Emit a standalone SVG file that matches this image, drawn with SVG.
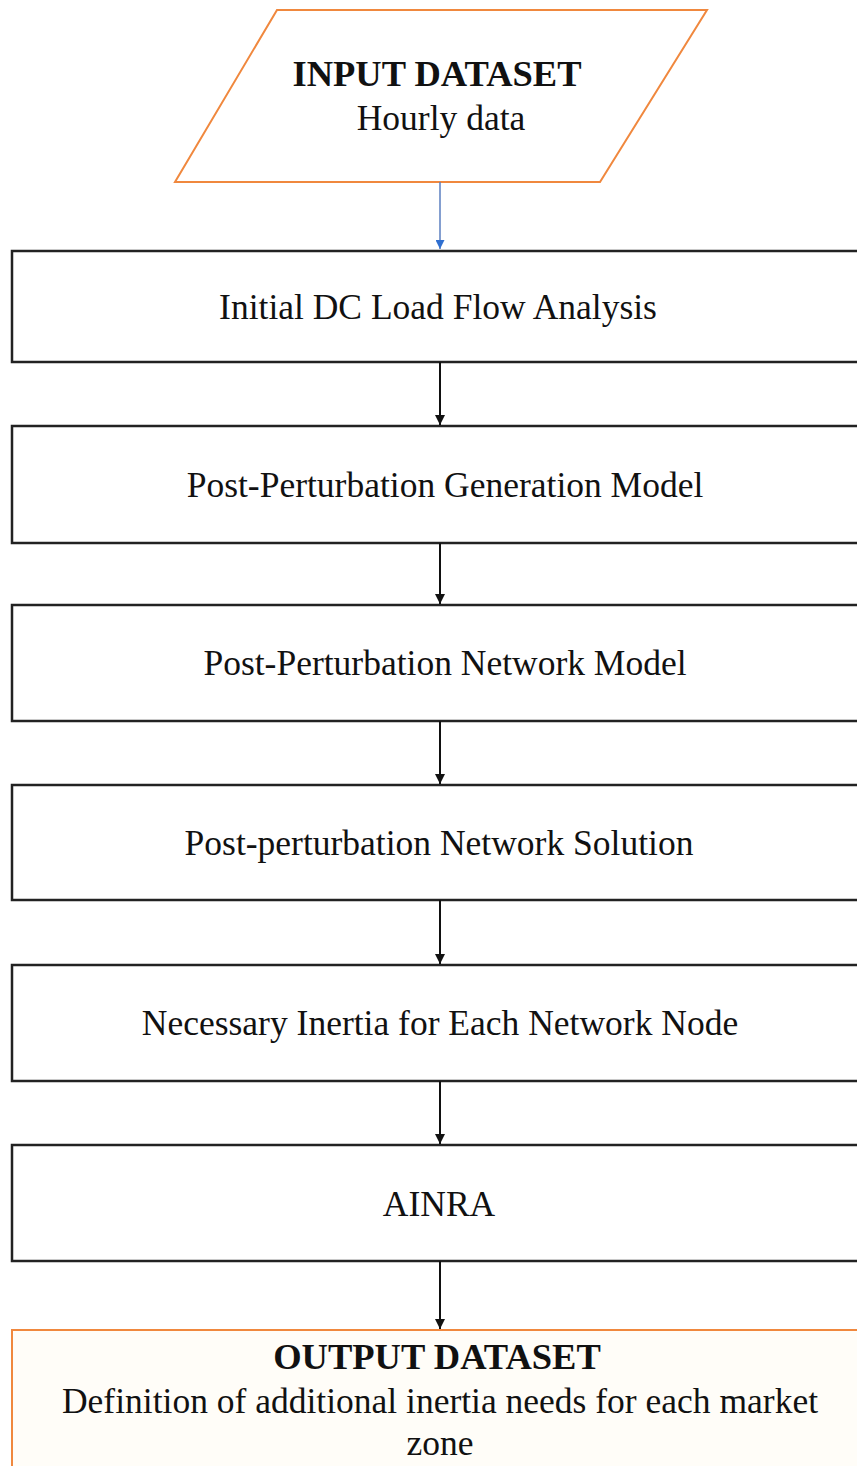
<svg xmlns="http://www.w3.org/2000/svg" width="857" height="1466" viewBox="0 0 857 1466">
<defs>
<style>
.box{fill:#fff;stroke:#222;stroke-width:2.5}
.io{fill:#fff;stroke:#f0883e;stroke-width:2}
.t{font-family:"Liberation Serif","Times New Roman",serif;font-size:35.5px;fill:#111;text-anchor:middle}
.b{font-weight:bold;font-size:36.5px}
.c{stroke:#111;stroke-width:2;fill:none}
</style>
<marker id="ah" viewBox="0 0 10 10" refX="10" refY="5" markerWidth="10" markerHeight="10" markerUnits="userSpaceOnUse" orient="auto"><path d="M0,0 L10,5 L0,10 z" fill="#111"/></marker>
<marker id="ahb" viewBox="0 0 10 10" refX="10" refY="5" markerWidth="9" markerHeight="9" markerUnits="userSpaceOnUse" orient="auto"><path d="M0,0 L10,5 L0,10 z" fill="#2f6fd0"/></marker>
</defs>
<rect width="857" height="1466" fill="#fff"/>
<g id="input">
<polygon class="io" points="277,10 707,10 600,182 175,182"/>
<text class="t b" x="437" y="86">INPUT DATASET</text>
<text class="t" x="441" y="130">Hourly data</text>
</g>
<g id="n1"><rect class="box" x="12" y="251" width="860" height="111"/><text class="t" x="438" y="319">Initial DC Load Flow Analysis</text></g>
<g id="n2"><rect class="box" x="12" y="426" width="860" height="117"/><text class="t" x="445" y="497">Post-Perturbation Generation Model</text></g>
<g id="n3"><rect class="box" x="12" y="605" width="860" height="116"/><text class="t" x="445" y="675">Post-Perturbation Network Model</text></g>
<g id="n4"><rect class="box" x="12" y="785" width="860" height="115"/><text class="t" x="439" y="855">Post-perturbation Network Solution</text></g>
<g id="n5"><rect class="box" x="12" y="965" width="860" height="116"/><text class="t" x="440" y="1035">Necessary Inertia for Each Network Node</text></g>
<g id="n6"><rect class="box" x="12" y="1145" width="860" height="116"/><text class="t" x="439" y="1216">AINRA</text></g>
<g id="output">
<rect x="12" y="1330" width="860" height="150" fill="#fffdf8" stroke="#f0883e" stroke-width="2"/>
<text class="t b" x="437" y="1369">OUTPUT DATASET</text>
<text class="t" x="440" y="1413">Definition of additional inertia needs for each market</text>
<text class="t" x="440" y="1455">zone</text>
</g>
<g id="connectors">
<line x1="440" y1="182" x2="440" y2="249" stroke="#5b7fc0" stroke-width="1.5" marker-end="url(#ahb)"/>
<line class="c" x1="440" y1="362" x2="440" y2="425" marker-end="url(#ah)"/>
<line class="c" x1="440" y1="543" x2="440" y2="604" marker-end="url(#ah)"/>
<line class="c" x1="440" y1="721" x2="440" y2="784" marker-end="url(#ah)"/>
<line class="c" x1="440" y1="900" x2="440" y2="964" marker-end="url(#ah)"/>
<line class="c" x1="440" y1="1081" x2="440" y2="1144" marker-end="url(#ah)"/>
<line class="c" x1="440" y1="1261" x2="440" y2="1329" marker-end="url(#ah)"/>
</g>
</svg>
